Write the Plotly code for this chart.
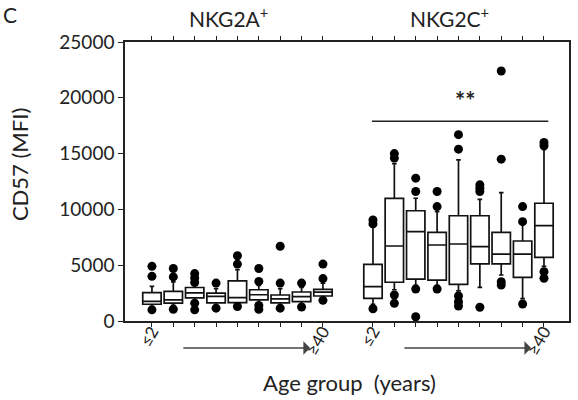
import plotly.graph_objects as go

# ---- data ----
age_labels = ["≤2", "", "", "", "", "", "", "", "≥40"]
groups = ["NKG2A<sup>+</sup>", "NKG2C<sup>+</sup>"]

a_q1 = [1500, 1600, 2080, 1620, 1640, 1900, 1620, 1730, 2240]
a_med = [1750, 1900, 2520, 2200, 2100, 2350, 1980, 2180, 2580]
a_q3 = [2550, 2650, 3000, 2500, 3600, 2800, 2330, 2600, 2840]
a_lo = [1300, 1400, 1700, 1400, 1500, 1600, 1400, 1500, 2000]
a_hi = [3100, 3500, 3300, 2900, 4600, 3200, 2900, 3000, 3400]
a_out = [[4900, 4000, 1000], [4700, 3950, 1050], [4250, 3850, 3450, 1600, 1000],
         [3400, 1150], [5850, 5100, 1300], [4700, 3550, 1400, 1050],
         [6700, 3400, 1150], [3400, 1250], [5100, 3800, 1850]]

c_q1 = [2030, 3470, 3760, 3670, 3290, 5110, 5110, 3915, 5710]
c_med = [3075, 6720, 8000, 6810, 6900, 6660, 6000, 6000, 8540]
c_q3 = [5080, 10990, 9880, 7950, 9430, 9430, 7950, 7170, 10550]
c_lo = [1500, 2800, 3200, 3200, 2700, 3020, 4120, 2000, 4900]
c_hi = [8450, 14100, 11000, 9800, 14430, 10900, 11500, 8900, 15380]
c_out = [[9050, 8700, 1100], [15000, 14600, 2330, 1580], [12800, 11600, 2870, 380],
         [11600, 10250, 2870], [16700, 15400, 2240, 1730, 1340],
         [12200, 11900, 11600, 1230], [22400, 14500, 3520, 3230],
         [10250, 8900, 1520], [16000, 15700, 4420, 3830]]

y_ticks = [0, 5000, 10000, 15000, 20000, 25000]
y_ticktext = ["0", "5000", "10000", "15000", "20000", "25000"]

x_title = "Age group  (years)"
y_title = "CD57 (MFI)"
panel_label = "C"

# ---- layout helpers ----
GAP = 10.34
xa = [i for i in range(len(age_labels))]
xc = [GAP + i for i in range(len(age_labels))]

FONT = "Lato"
fig = go.Figure()

for xs, q1, med, q3, lo, hi in [(xa, a_q1, a_med, a_q3, a_lo, a_hi),
                                (xc, c_q1, c_med, c_q3, c_lo, c_hi)]:
    fig.add_trace(go.Box(x=xs, q1=q1, median=med, q3=q3, lowerfence=lo, upperfence=hi,
                         boxpoints=False, fillcolor="white",
                         line=dict(color="#111111", width=1.7),
                         width=0.86, whiskerwidth=0.25, showlegend=False))

ox, oy = [], []
for xs, outs in [(xa, a_out), (xc, c_out)]:
    for x, vals in zip(xs, outs):
        for v in vals:
            ox.append(x)
            oy.append(v)
fig.add_trace(go.Scatter(x=ox, y=oy, mode="markers",
                         marker=dict(color="black", size=9), showlegend=False))

# labelled ticks only where a label exists; all positions get a (minor) tick
lab_vals, lab_text = [], []
for xs in (xa, xc):
    for x, t in zip(xs, age_labels):
        if t:
            lab_vals.append(x)
            lab_text.append(t)

fig.update_layout(
    width=578, height=400,
    margin=dict(l=125, r=9, t=42, b=79),
    plot_bgcolor="white", paper_bgcolor="white",
    font=dict(family=FONT, color="#222222"),
    xaxis=dict(range=[-1.26, xc[-1] + 1.17], tickvals=lab_vals, ticktext=lab_text,
               tickangle=-60, ticks="outside", ticklen=4, tickcolor="#222",
               minor=dict(tickmode="array", tickvals=xa + xc, ticks="outside",
                          ticklen=4, tickcolor="#222", showgrid=False),
               showline=True, linecolor="#222", linewidth=1.5, mirror="ticks",
               showgrid=False, zeroline=False, tickfont=dict(size=17),
               ticklabelstandoff=-12, automargin=False),
    yaxis=dict(range=[0, 25000], tickvals=y_ticks, ticktext=y_ticktext,
               ticks="outside", ticklen=5,
               tickcolor="#222", showline=True, linecolor="#222", linewidth=1.5,
               mirror=True, showgrid=False, zeroline=False, tickfont=dict(size=19),
               automargin=False),
)

# axis titles
fig.add_annotation(x=0.505, y=-0.222, xref="paper", yref="paper", text=x_title,
                   xanchor="center", yanchor="middle", showarrow=False,
                   font=dict(size=22))
fig.add_annotation(x=-0.238, y=0.56, xref="paper", yref="paper", text=y_title,
                   xanchor="center", yanchor="middle", textangle=-90, showarrow=False,
                   font=dict(size=22))

# group titles
for xs, name in [(xa, groups[0]), (xc, groups[1])]:
    fig.add_annotation(x=(xs[0] + xs[-1]) / 2 - 0.4, y=1.0, xref="x", yref="paper",
                       yanchor="bottom", yshift=9, text=name, showarrow=False,
                       font=dict(size=21))
fig.add_annotation(x=-0.258, y=1.097, xref="paper", yref="paper",
                   xanchor="center", yanchor="middle", text=panel_label, showarrow=False,
                   font=dict(size=21))

# age direction arrows
for xs in (xa, xc):
    fig.add_annotation(x=xs[-1] - 0.6, y=-0.097, xref="x", yref="paper",
                       ax=xs[0] + 1.4, ay=0, axref="x", ayref="pixel",
                       showarrow=True, arrowhead=1, arrowsize=1.6, arrowwidth=1.4,
                       arrowcolor="#444", text="")

# significance bracket
fig.add_shape(type="line", x0=xc[0] - 0.05, x1=xc[-1] + 0.2, y0=17900, y1=17900,
              xref="x", yref="y", line=dict(color="#222", width=1.5))
fig.add_annotation(x=(xc[0] + xc[-1]) / 2 + 0.3, y=17900, xref="x", yref="y",
                   yanchor="bottom", yshift=4, text="<b>**</b>", showarrow=False,
                   font=dict(size=24))

fig.write_html("out.html", config={"displayModeBar": False},
               post_script="document.body.style.margin='0';document.body.style.padding='0';")
